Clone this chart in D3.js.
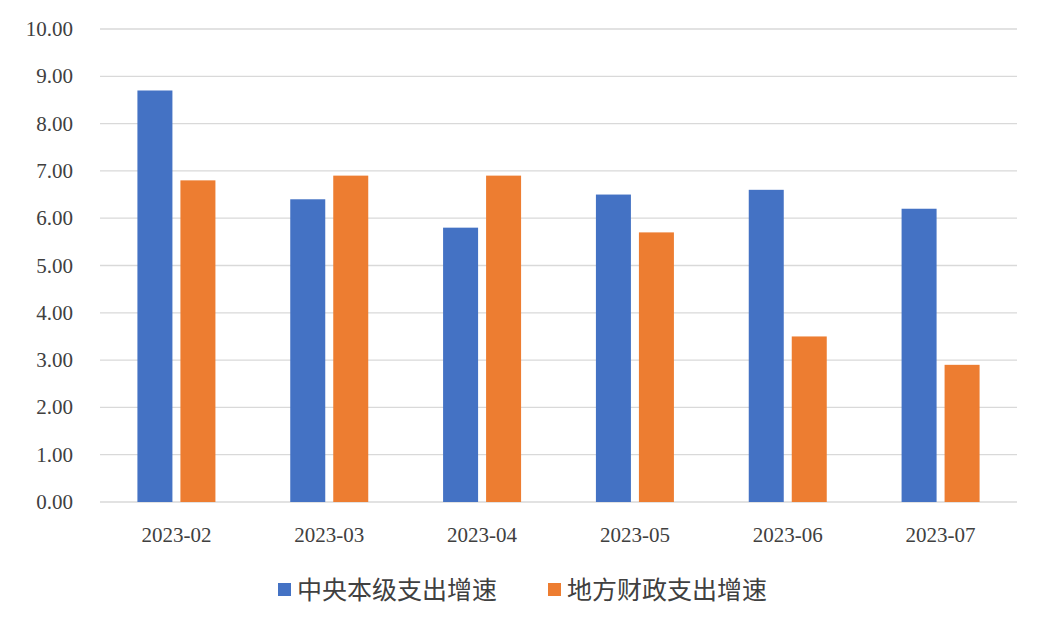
<!DOCTYPE html>
<html><head><meta charset="utf-8">
<script src="https://cdn.jsdelivr.net/npm/d3@7"></script>
<style>body{margin:0;background:#fff}</style>
</head><body>
<svg id="chart" width="1038" height="618"></svg>
<script>
var months = ["2023-02", "2023-03", "2023-04", "2023-05", "2023-06", "2023-07"],
	central = [8.7, 6.4, 5.8, 6.5, 6.6, 6.2],
	local = [6.8, 6.9, 6.9, 5.7, 3.5, 2.9],
	seriesNames = ["中央本级支出增速", "地方财政支出增速"],
	colors = ["#4472c4", "#ed7d31"],
	yTicks = [0, 1, 2, 3, 4, 5, 6, 7, 8, 9, 10];

var svg = d3.select("#chart"),
	plotLeft = 100, plotRight = 1017, plotTop = 29, plotBottom = 502;

var x = d3.scaleBand().domain(months).range([plotLeft, plotRight]);
var y = d3.scaleLinear().domain([0, 10]).range([plotBottom, plotTop]);
var barW = 35, gap = 8;

svg.append("g").selectAll("line").data(yTicks).join("line")
	.attr("x1", plotLeft).attr("x2", plotRight)
	.attr("y1", function(d) { return y(d); }).attr("y2", function(d) { return y(d); })
	.attr("stroke", "#d9d9d9").attr("stroke-width", 1.3);

svg.append("g").selectAll("text").data(yTicks).join("text")
	.attr("x", 73).attr("y", function(d) { return y(d) + 7; })
	.attr("text-anchor", "end")
	.attr("font-family", "Liberation Serif").attr("font-size", 21).attr("fill", "#404040")
	.text(function(d) { return d3.format(".2f")(d); });

[central, local].forEach(function(vals, s) {
	svg.append("g").selectAll("rect").data(vals).join("rect")
		.attr("x", function(d, i) {
			var c = x(months[i]) + x.bandwidth() / 2;
			return s === 0 ? c - gap / 2 - barW : c + gap / 2;
		})
		.attr("y", function(d) { return y(d); })
		.attr("width", barW)
		.attr("height", function(d) { return plotBottom - y(d); })
		.attr("fill", colors[s]);
});

svg.append("g").selectAll("text").data(months).join("text")
	.attr("x", function(d) { return x(d) + x.bandwidth() / 2; })
	.attr("y", 542)
	.attr("text-anchor", "middle")
	.attr("font-family", "Liberation Serif").attr("font-size", 21).attr("fill", "#404040")
	.text(function(d) { return d; });

var legX = [278, 548];
seriesNames.forEach(function(n, i) {
	svg.append("rect").attr("x", legX[i]).attr("y", 583).attr("width", 13).attr("height", 13).attr("fill", colors[i]);
	svg.append("text").attr("x", legX[i] + 19).attr("y", 599)
		.attr("font-family", "Noto Sans CJK SC").attr("font-size", 25).attr("fill", "#404040")
		.text(n);
});
</script>
</body></html>
